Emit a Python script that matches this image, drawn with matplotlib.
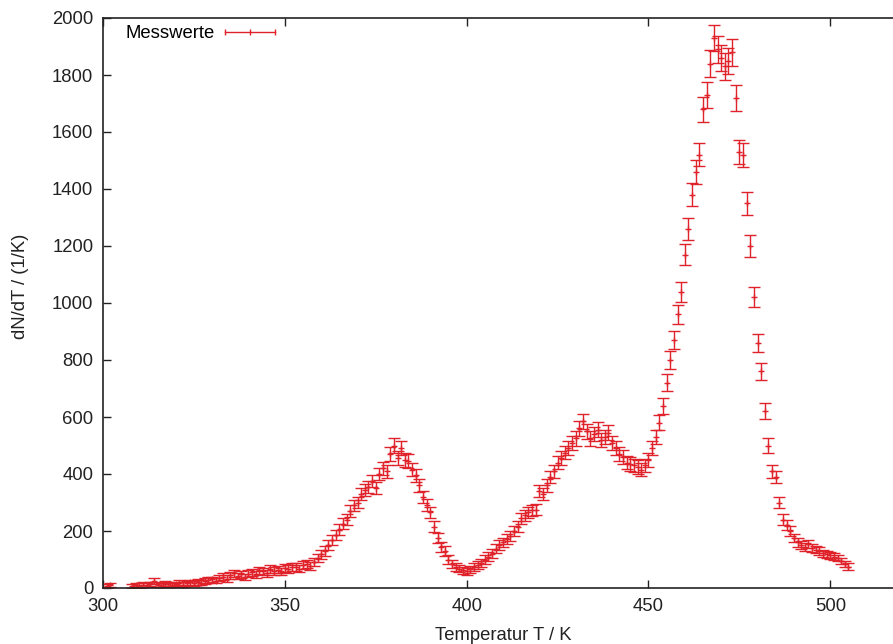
import matplotlib.pyplot as plt
from matplotlib.lines import Line2D

# Temperaturpunkte in K (zwischen 303 und 307 keine Zählrate)
temps = list(range(301, 303)) + list(range(308, 506))

# Gemessene Rate dN/dT in 1/K
rate = [
    8, 10,
    8, 10, 6,
    12, 9, 14, 25, 12, 10, 15, 13, 11, 14,
    18, 12, 16, 20, 17, 22, 19, 25, 28, 30,
    26, 36, 40, 33, 45, 52, 42, 48, 38, 50,
    55, 47, 62, 58, 52, 66, 60, 64, 58, 70,
    66, 75, 72, 68, 80, 85, 78, 92, 105, 118,
    130, 150, 168, 185, 205, 225, 240, 270, 290, 300,
    330, 345, 355, 375, 350, 400, 420, 410, 470, 500,
    455, 490, 450, 445, 415, 395, 360, 320, 290, 265,
    215, 175, 145, 130, 100, 85, 75, 68, 62, 58,
    65, 72, 80, 88, 100, 110, 120, 138, 150, 160,
    172, 182, 200, 215, 245, 255, 265, 272, 275, 340,
    330, 360, 390, 410, 440, 455, 475, 490, 510, 525,
    560, 585, 550, 525, 540, 555, 520, 530, 545, 510,
    490, 470, 460, 440, 435, 430, 425, 415, 430, 450,
    490, 530, 580, 640, 720, 800, 870, 960, 1040, 1170,
    1260, 1380, 1460, 1520, 1680, 1730, 1840, 1930, 1890, 1860,
    1830, 1850, 1880, 1720, 1530, 1520, 1350, 1200, 1020, 860,
    760, 620, 500, 410, 390, 300, 240, 220, 200, 175,
    160, 150, 145, 155, 140, 135, 130, 122, 118, 115,
    110, 105, 95, 85, 75,
]

# Fehler der Rate
rate_err = [
    7, 7,
    7, 7, 6,
    8, 7, 8, 10, 8, 7, 8, 8, 7, 8,
    9, 8, 8, 9, 9, 10, 9, 10, 10, 10,
    10, 11, 11, 11, 12, 12, 11, 12, 11, 12,
    12, 12, 13, 13, 12, 13, 13, 13, 13, 13,
    13, 14, 14, 13, 14, 14, 14, 15, 15, 16,
    16, 17, 17, 18, 18, 19, 19, 20, 20, 21,
    21, 21, 22, 22, 21, 22, 23, 23, 24, 25,
    24, 25, 24, 24, 23, 23, 22, 21, 21, 20,
    19, 18, 17, 16, 15, 14, 14, 13, 13, 13,
    13, 14, 14, 15, 15, 15, 16, 16, 17, 17,
    18, 18, 18, 19, 19, 20, 20, 20, 20, 21,
    21, 22, 22, 23, 23, 24, 24, 25, 25, 25,
    26, 26, 26, 25, 25, 26, 25, 25, 26, 25,
    25, 24, 24, 24, 24, 24, 24, 23, 24, 24,
    25, 26, 27, 28, 30, 31, 32, 34, 35, 37,
    38, 40, 41, 41, 44, 45, 46, 47, 47, 46,
    46, 46, 47, 45, 42, 42, 40, 38, 35, 32,
    30, 28, 26, 23, 22, 20, 18, 17, 16, 15,
    15, 14, 14, 14, 14, 13, 13, 13, 13, 12,
    12, 12, 12, 11, 11,
]

xticks = [300, 350, 400, 450, 500]
yticks = list(range(0, 2001, 200))

plt.rcParams['font.family'] = ['Liberation Sans', 'DejaVu Sans']
red = '#e0222a'
fs = 13.3

fig = plt.figure(figsize=(8.93, 6.44), dpi=100)
# rechter Rand liegt knapp ausserhalb des Bildes
ax = fig.add_axes([103 / 893, 56 / 644, 800 / 893, 570 / 644])

ax.errorbar(temps, rate, yerr=rate_err, fmt='+', color=red, ms=5, mew=1.0,
            elinewidth=1.0, capsize=4.5, capthick=1.0)

ax.set_xlim(300, 520)
ax.set_ylim(0, 2000)
ax.set_xticks(xticks)
ax.set_yticks(yticks)
ax.tick_params(direction='in', length=6, width=1, top=True, right=True,
               labelsize=fs, pad=7, colors='#222222')
for s in ax.spines.values():
    s.set_linewidth(1.2)
    s.set_color('#222222')

ax.set_xlabel('Temperatur T / K', fontsize=fs, color='#222222')
ax.set_ylabel('dN/dT / (1/K)', fontsize=fs, color='#222222')
ax.xaxis.set_label_coords(0.5, -0.068)
ax.yaxis.set_label_coords(-0.093, 0.53)

# Legende im gnuplot-Stil: Text links, Fehlerbalken-Symbol rechts
key = Line2D([], [], color=red, lw=1.0, marker='|', ms=5, mew=1.0)
ax.legend(handles=[key], labels=['Messwerte'], loc='upper left',
          bbox_to_anchor=(0.028, 0.987), frameon=False, markerfirst=False,
          numpoints=3, handlelength=3.3, handletextpad=0.25, borderpad=0,
          borderaxespad=0, fontsize=fs)

fig.savefig('out.png', dpi=100)
